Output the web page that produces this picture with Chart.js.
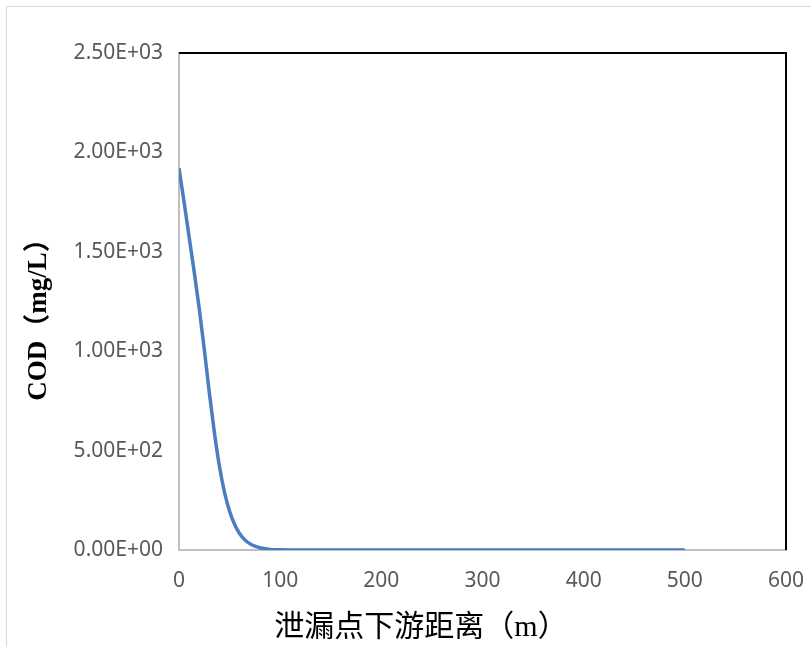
<!DOCTYPE html>
<html>
<head>
<meta charset="utf-8">
<script src="https://cdn.jsdelivr.net/npm/chart.js@4"></script>
<style>
  html, body { margin: 0; padding: 0; background: #fff; overflow: hidden; }
  #frame {
    position: absolute; left: 6px; top: 6px; width: 840px; height: 680px;
    border: 1px solid #d9d9d9; box-sizing: border-box;
  }
  #wrap { position: absolute; left: 0; top: 0; width: 811px; height: 647px; }
</style>
</head>
<body>
<div id="frame"></div>
<div id="wrap"><canvas id="chart" width="811" height="647"></canvas></div>
<script>
// Distance downstream of leak point (m)
const DISTANCE = [0, 5, 10, 15, 20, 25, 30, 35, 40, 45, 50, 55, 60, 65, 70, 75, 80, 85, 90, 95, 100,
                  110, 120, 150, 200, 250, 300, 350, 400, 450, 500];
// COD concentration (mg/L)
const COD = [1920, 1750, 1575, 1400, 1215, 1010, 790, 590, 420, 290, 195, 128, 82, 52, 32, 19, 11, 6, 3, 1.5, 0.8,
             0.2, 0, 0, 0, 0, 0, 0, 0, 0, 0];

const X_TITLE = '泄漏点下游距离（m）';
const Y_TITLE = 'COD（mg/L）';

const TICK_FONT = { family: "'Noto Sans', sans-serif", size: 21 };
const TITLE_FAMILY = "'Liberation Serif', 'Noto Sans CJK SC', serif";

// Excel-style scientific label, e.g. 2.50E+03
function sciLabel(v) {
  if (v === 0) return '0.00E+00';
  const [m, e] = Number(v).toExponential(2).split('e');
  const n = parseInt(e, 10);
  const sign = n < 0 ? '-' : '+';
  return `${m}E${sign}${String(Math.abs(n)).padStart(2, '0')}`;
}

// Black top/right frame of the plot area + axis titles (centred like Excel does)
const frameAndTitles = {
  id: 'frameAndTitles',
  afterDraw(chart) {
    const { ctx, chartArea: a } = chart;
    ctx.save();
    ctx.strokeStyle = '#000';
    ctx.lineWidth = 2;
    ctx.beginPath();
    ctx.moveTo(a.left, a.top);
    ctx.lineTo(a.right, a.top);
    ctx.lineTo(a.right, a.bottom);
    ctx.stroke();

    ctx.fillStyle = '#000';
    ctx.textAlign = 'center';
    ctx.textBaseline = 'middle';
    ctx.font = `30px ${TITLE_FAMILY}`;
    ctx.fillText(X_TITLE, 421, 628);

    ctx.translate(39, 313);
    ctx.rotate(-Math.PI / 2);
    ctx.font = `bold 27px ${TITLE_FAMILY}`;
    ctx.fillText(Y_TITLE, 0, 0);
    ctx.restore();
  },
};

new Chart(document.getElementById('chart'), {
  type: 'scatter',
  data: {
    datasets: [{
      label: 'COD',
      data: DISTANCE.map((x, i) => ({ x, y: COD[i] })),
      showLine: true,
      borderColor: '#4a7ebf',
      borderWidth: 3.5,
      pointRadius: 0,
      cubicInterpolationMode: 'monotone',
      fill: false,
    }],
  },
  options: {
    responsive: false,
    animation: false,
    layout: { padding: { top: 53, right: 25, left: 0, bottom: 0 } },
    plugins: { legend: { display: false }, tooltip: { enabled: false } },
    scales: {
      x: {
        type: 'linear',
        min: 0,
        max: 600,
        afterFit: (s) => { s.height = 97; s.paddingLeft = 0; s.paddingRight = 0; },
        ticks: { stepSize: 100, color: '#595959', font: TICK_FONT, padding: 18, maxRotation: 0 },
        grid: { display: false, drawTicks: false },
        border: { color: '#bfbfbf', width: 2 },
      },
      y: {
        min: 0,
        max: 2500,
        afterFit: (s) => { s.width = 179; },
        ticks: { stepSize: 500, color: '#595959', font: TICK_FONT, padding: 16, callback: sciLabel },
        grid: { display: false, drawTicks: false },
        border: { color: '#bfbfbf', width: 2 },
      },
    },
  },
  plugins: [frameAndTitles],
});
</script>
</body>
</html>
